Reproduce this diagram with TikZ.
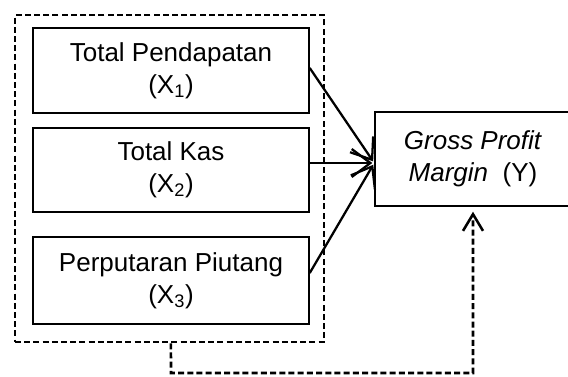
\documentclass[tikz,border=0pt]{standalone}
\usepackage{fontspec}
\setmainfont{Liberation Sans}
\usetikzlibrary{arrows.meta}
\begin{document}
\begin{tikzpicture}[x=0.75pt,y=-0.75pt,
  varbox/.style={draw, line width=1.1pt, align=center, inner sep=0pt,
    font=\fontsize{19.5pt}{24pt}\selectfont},
  arr/.style={line width=1.7pt, -{Straight Barb[length=14pt,width=21pt,line width=1.7pt]}, shorten >=1.5pt},
  grouped/.style={draw, line width=1.9pt, dash pattern=on 4.5pt off 2.4pt},
  link/.style={line width=1.9pt, dash pattern=on 4.5pt off 2.4pt,
    -{Straight Barb[length=12.5pt,width=15pt,line width=1.9pt]}, shorten >=3.75pt}]
\useasboundingbox (0,0) rectangle (568,376);

% independent variables inside the dashed group
\node[grouped, minimum width=231.75pt, minimum height=245.25pt] (grp) at (169.5,178.5) {};
\node[varbox, minimum width=207pt, minimum height=63.75pt] (x1) at (171,70.5)
  {Total Pendapatan\\(X\textsubscript{1})};
\node[varbox, minimum width=207pt, minimum height=63pt] (x2) at (171,170)
  {Total Kas\\(X\textsubscript{2})};
\node[varbox, minimum width=207pt, minimum height=65.25pt] (x3) at (171,280.5)
  {Perputaran Piutang\\(X\textsubscript{3})};

% dependent variable
\node[varbox, minimum width=147pt, minimum height=70.5pt] (y) at (473,159)
  {\textit{Gross Profit}\\\textit{Margin}\ \ (Y)};

\coordinate (tgt) at ([yshift=-3pt]y.west);

% partial effects
\draw[arr] ([yshift=1.9pt]x1.east) -- (tgt);
\draw[arr] ([yshift=5.25pt]x2.east) -- (tgt);
\draw[arr] ([yshift=5.6pt]x3.east) -- (tgt);

% simultaneous effect
\coordinate (c1) at (171,373);
\coordinate (c2) at (473,373);
\draw[link] ([xshift=1.1pt]grp.south) -- (c1) -- (c2) -- (y.south);
\end{tikzpicture}
\end{document}
